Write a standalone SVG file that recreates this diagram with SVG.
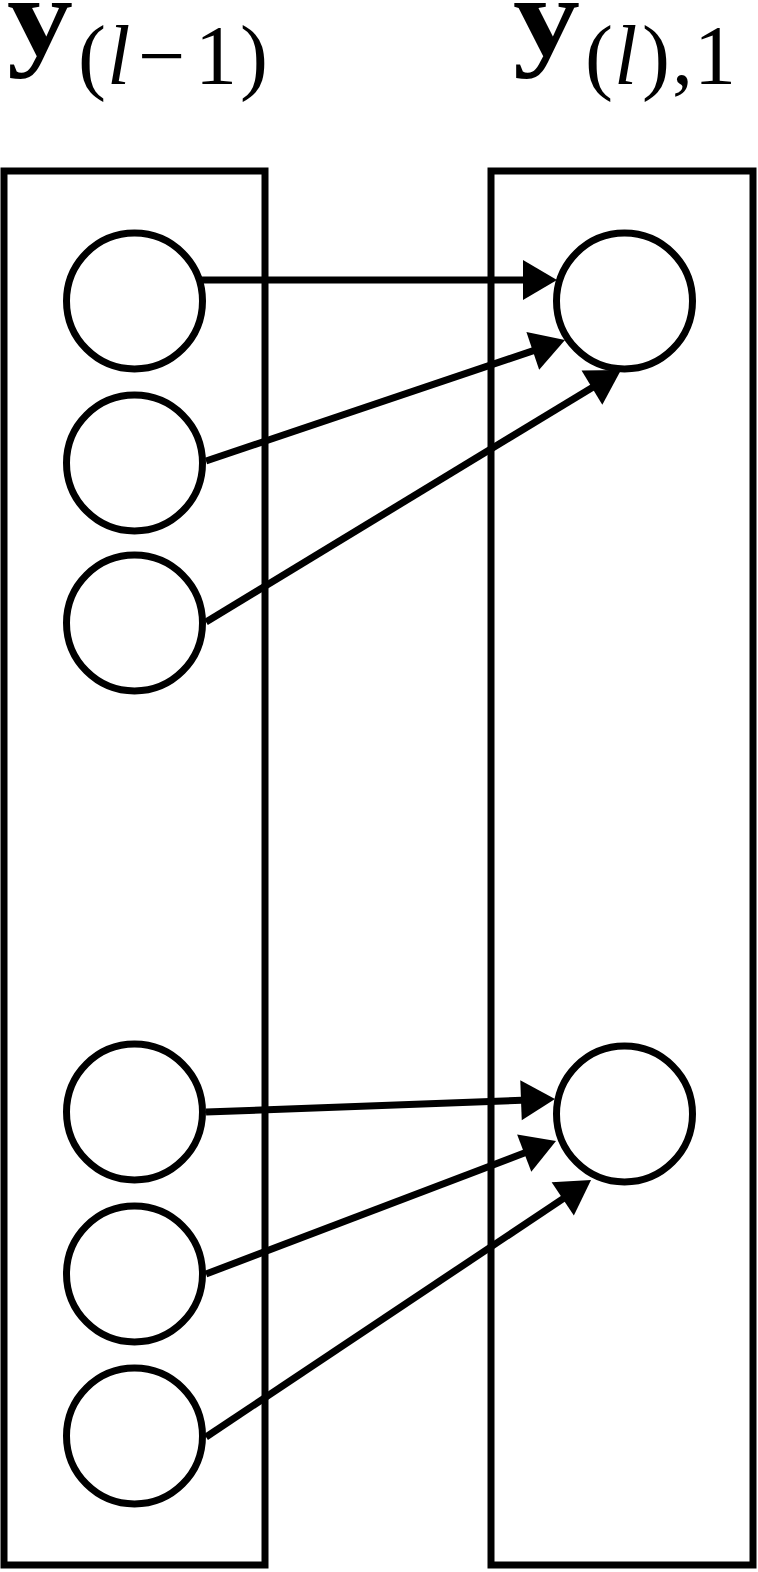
<svg xmlns="http://www.w3.org/2000/svg" width="758" height="1572" viewBox="0 0 758 1572">
<style>
.box{fill:none;stroke:#000;stroke-width:7}
.node{fill:#fff;stroke:#000;stroke-width:7}
.edge{fill:none;stroke:#000;stroke-width:7;marker-end:url(#ah)}
.lbl{font-family:"Liberation Serif","DejaVu Serif",serif;fill:#000}
.big{font-size:113px;font-weight:bold}
.sub{font-size:84px}
.it{font-style:italic}
</style>
<defs>
<marker id="ah" markerUnits="userSpaceOnUse" markerWidth="34" markerHeight="40" refX="14" refY="20" orient="auto" overflow="visible">
<path d="M0,0 L34,20 L0,40 Z" fill="#000"/>
</marker>
</defs>
<rect width="758" height="1572" fill="#fff"/>
<g id="label-left" class="lbl">
<text x="7" y="55" class="big" textLength="66" lengthAdjust="spacingAndGlyphs">y</text>
<text y="84" class="sub"><tspan x="78">(</tspan><tspan x="107" class="it">l</tspan><tspan x="138">−</tspan><tspan x="195">1</tspan><tspan x="240">)</tspan></text>
</g>
<g id="label-right" class="lbl">
<text x="513" y="55" class="big" textLength="67" lengthAdjust="spacingAndGlyphs">y</text>
<text y="84" class="sub"><tspan x="585">(</tspan><tspan x="614" class="it">l</tspan><tspan x="642">)</tspan><tspan x="672">,</tspan><tspan x="694">1</tspan></text>
</g>
<g id="layer-left"><rect class="box" x="4" y="171" width="261" height="1394"/></g>
<g id="layer-right"><rect class="box" x="491" y="171" width="262" height="1394"/></g>
<g id="in1"><circle class="node" cx="134.5" cy="301" r="68"/></g>
<g id="in2"><circle class="node" cx="134.5" cy="463" r="68"/></g>
<g id="in3"><circle class="node" cx="134.5" cy="623" r="68"/></g>
<g id="in4"><circle class="node" cx="134.5" cy="1112" r="68"/></g>
<g id="in5"><circle class="node" cx="134.5" cy="1274" r="68"/></g>
<g id="in6"><circle class="node" cx="134.5" cy="1436" r="68"/></g>
<g id="out1"><circle class="node" cx="624.5" cy="301" r="68"/></g>
<g id="out2"><circle class="node" cx="624.5" cy="1114" r="68"/></g>
<g id="connectors">
<line class="edge" x1="200" y1="280" x2="537" y2="280"/>
<line class="edge" x1="206" y1="461" x2="546.05" y2="346.39"/>
<line class="edge" x1="206" y1="622" x2="603.9" y2="380.4"/>
<line class="edge" x1="206" y1="1112" x2="535.0" y2="1099.74"/>
<line class="edge" x1="206" y1="1274" x2="537.3" y2="1148.1"/>
<line class="edge" x1="206" y1="1437" x2="574.4" y2="1191.1"/>
</g>
</svg>
